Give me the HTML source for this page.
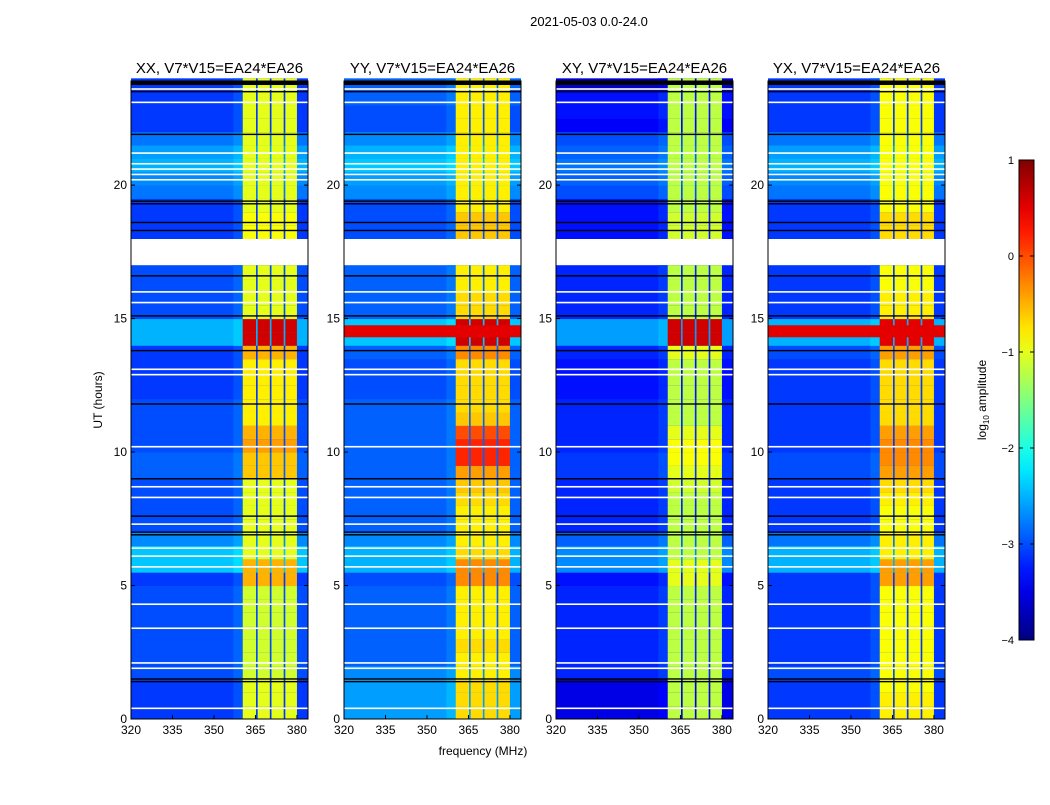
<!DOCTYPE html>
<html><head><meta charset="utf-8"><style>
body{margin:0;background:#fff;width:1050px;height:800px;overflow:hidden;font-family:"Liberation Sans",sans-serif}
svg text{font-family:"Liberation Sans",sans-serif;fill:#000}
</style></head><body>
<svg id="fig" width="1050" height="800"></svg>
<script>
const panelTitles=["XX, V7*V15=EA24*EA26","YY, V7*V15=EA24*EA26","XY, V7*V15=EA24*EA26","YX, V7*V15=EA24*EA26"];
const xTicks=[320,335,350,365,380];
const yTicks=[0,5,10,15,20];
const cbTicks=[1,0,-1,-2,-3,-4];
// half-hour bins, log10 amplitude; null = no data
const bgXX=[-3.1,-3.1,-3.1,-3.0,-3.0,-3.0,-3.0,-3.0,-3.0,-3.0,-3.1,-2.4,-2.4,-2.7,-3.0,-3.0,-3.0,-3.0,-2.9,-2.9,-3.0,-3.0,-3.0,-3.0,-3.1,-3.1,-3.1,-3.1,-2.5,-2.5,-3.0,-3.0,-3.0,-3.0,null,null,-3.1,-3.1,-3.1,-2.8,-2.7,-2.5,-2.6,-2.8,-3.1,-3.1,-3.1,-3.1];
const bandXX=[-1.0,-1.0,-1.0,-1.1,-1.1,-1.1,-1.1,-1.1,-1.1,-1.1,-0.5,-0.5,-1.0,-1.0,-1.0,-1.0,-1.0,-1.0,-0.6,-0.6,-0.4,-0.5,-0.8,-0.8,-0.8,-0.8,-0.8,-0.5,0.6,0.6,-1.0,-1.0,-1.0,-1.0,null,null,-0.9,-0.9,-1.0,-1.0,-1.0,-1.0,-1.0,-1.0,-1.0,-1.0,-1.0,-1.0];
const bgYY=[-2.6,-2.6,-2.6,-2.7,-2.9,-2.9,-2.9,-2.9,-2.9,-2.9,-3.0,-2.5,-2.5,-2.7,-2.9,-2.9,-2.9,-2.9,-2.9,-2.9,-2.9,-2.9,-2.9,-2.9,-3.0,-3.0,-3.0,-2.9,-2.4,-2.4,-2.9,-2.9,-2.9,-2.9,null,null,-3.0,-3.0,-3.0,-2.7,-2.6,-2.4,-2.5,-2.7,-3.0,-3.0,-2.9,-2.9];
const bandYY=[-0.7,-0.7,-0.7,-0.8,-0.8,-0.7,-0.8,-0.8,-0.8,-0.8,-0.3,-0.3,-0.7,-0.8,-0.8,-0.8,-0.7,-0.6,-0.4,0.2,0.2,0.0,-0.6,-0.7,-0.7,-0.7,-0.7,-0.3,0.6,0.6,-0.7,-0.7,-0.8,-0.8,null,null,-0.6,-0.6,-0.8,-0.8,-0.8,-0.8,-0.8,-0.8,-0.8,-0.8,-0.8,-0.8];
const bgXY=[-3.5,-3.5,-3.5,-3.2,-3.2,-3.2,-3.2,-3.2,-3.2,-3.2,-3.3,-2.7,-2.7,-2.9,-3.2,-3.2,-3.2,-3.2,-3.1,-3.1,-3.2,-3.2,-3.2,-3.2,-3.3,-3.3,-3.3,-3.2,-2.6,-2.6,-3.2,-3.2,-3.2,-3.2,null,null,-3.3,-3.3,-3.3,-3.0,-2.9,-2.8,-2.9,-3.0,-3.4,-3.3,-3.3,-3.6];
const bandXY=[-1.2,-1.2,-1.2,-1.2,-1.2,-1.2,-1.2,-1.2,-1.2,-1.2,-1.0,-1.0,-1.2,-1.2,-1.2,-1.2,-1.2,-1.1,-1.0,-0.9,-0.9,-1.0,-1.2,-1.2,-1.2,-1.2,-1.2,-1.0,0.6,0.6,-1.2,-1.2,-1.2,-1.2,null,null,-1.1,-1.1,-1.2,-1.2,-1.2,-1.2,-1.2,-1.2,-1.2,-1.2,-1.2,-1.2];
const bgYX=[-3.1,-3.1,-3.1,-3.0,-3.1,-3.1,-3.1,-3.1,-3.1,-3.1,-3.1,-2.5,-2.5,-2.8,-3.1,-3.1,-3.1,-3.1,-3.0,-3.0,-3.1,-3.1,-3.1,-3.1,-3.1,-3.1,-3.1,-3.0,-2.5,-2.5,-3.1,-3.1,-3.1,-3.1,null,null,-3.1,-3.1,-3.1,-2.8,-2.7,-2.5,-2.6,-2.8,-3.1,-3.1,-3.1,-3.1];
const bandYX=[-0.8,-0.8,-0.9,-0.9,-0.9,-0.9,-0.9,-0.9,-0.9,-0.9,-0.4,-0.4,-0.8,-0.8,-0.9,-0.9,-0.8,-0.7,-0.4,-0.3,-0.3,-0.4,-0.7,-0.7,-0.7,-0.7,-0.7,-0.4,0.5,0.5,-0.8,-0.8,-0.9,-0.9,null,null,-0.7,-0.7,-0.9,-0.9,-0.9,-0.9,-0.9,-0.9,-0.9,-0.9,-0.9,-0.9];
const stripeLevel=[null,0.5,null,0.5];
const blackLines=[1.4,1.5,6.9,7.0,7.6,9.0,11.8,13.8,15.1,16.6,18.3,18.6,19.3,19.4,21.9,23.5];
const whiteLines=[0.4,1.9,2.1,3.4,4.3,5.7,6.1,6.4,7.3,8.3,8.7,10.2,12.9,13.1,15.6,16.0,20.2,20.4,20.6,20.8,21.2,23.1,23.6];
const bands=[[360.4,365.2],[365.8,370.2],[370.8,375.2],[375.8,380.0]];

const bgs=[bgXX,bgYY,bgXY,bgYX], bandVals=[bandXX,bandYY,bandXY,bandYX];
const panelX=[131,344,556,768], PW=177, PT=81, PB=719;
const F0=320,F1=384,T0=0,T1=23.9;
function jet(v){let t=(v+4)/5;t=Math.max(0,Math.min(1,t));
 const f=x=>Math.round(255*Math.max(0,Math.min(1,x)));
 return `rgb(${f(1.5-Math.abs(4*t-3))},${f(1.5-Math.abs(4*t-2))},${f(1.5-Math.abs(4*t-1))})`;}
const NS='http://www.w3.org/2000/svg', svg=document.getElementById('fig');
function el(tag,attrs,parent){const e=document.createElementNS(NS,tag);for(const k in attrs)e.setAttribute(k,attrs[k]);(parent||svg).appendChild(e);return e;}
function txt(s,attrs,parent){const e=el('text',attrs,parent);e.textContent=s;return e;}

const title=txt("2021-05-03 0.0-24.0",{x:589,y:26,'font-size':13,'text-anchor':'middle'});



for(let p=0;p<4;p++){
 const x0=panelX[p];
 const xs=f=>x0+(f-F0)/(F1-F0)*PW;
 const ys=t=>PB-(t-T0)/(T1-T0)*(PB-PT);
 const g=el('g',{});
 
 
 const bg=bgs[p], bv=bandVals[p];
 for(let i=0;i<bg.length;i++){
  const ya=ys((i+1)*0.5), yb=ys(i*0.5);
  if(bg[i]===null) continue;
  const r=el('rect',{x:xs(F0),y:ya,width:xs(F1)-xs(F0),height:yb-ya+0.5,fill:jet(bg[i])},g);
  
  
  const r2=el('rect',{x:xs(357),y:ya,width:xs(360.4)-xs(357),height:yb-ya+0.5,fill:jet(bg[i]+0.12)},g);
  
  
  for(const b of bands){
   const c=el('rect',{x:xs(b[0]),y:ya,width:xs(b[1])-xs(b[0]),height:yb-ya+0.5,fill:jet(bv[i])},g);
   
   
  }
 }
 if(stripeLevel[p]!==null){
  const s=el('rect',{x:xs(F0),y:ys(14.75),width:PW,height:ys(14.3)-ys(14.75),fill:jet(stripeLevel[p])},g);
  
  
 }
 for(const h of whiteLines){const l=el('rect',{x:x0,y:ys(h)-0.8,width:PW,height:1.6,fill:'#fff'},g);
  
  }
 for(const h of blackLines){const l=el('rect',{x:x0,y:ys(h)-0.7,width:PW,height:1.4,fill:'#000'},g);
  
  }
 const top=el('rect',{x:x0,y:PT,width:PW,height:ys(23.75)-PT,fill:'#000'},g);
 
 
 const fr=el('rect',{x:x0,y:PT,width:PW,height:PB-PT,fill:'none',stroke:'#000','stroke-width':1},g);
 
 
 const pt=txt(panelTitles[p],{x:x0+PW/2,y:73,'font-size':15,'text-anchor':'middle'},g);
 
 
 for(const f of xTicks){const X=xs(f);
  el('line',{x1:X,x2:X,y1:PB,y2:PB-4,stroke:'#000'},g);el('line',{x1:X,x2:X,y1:PT,y2:PT+4,stroke:'#000'},g);
  const t=txt(String(f),{x:X,y:PB+15,'font-size':12,'text-anchor':'middle'},g);
  
  }
 for(const h of yTicks){const Y=ys(h);
  el('line',{x1:x0,x2:x0+4,y1:Y,y2:Y,stroke:'#000'},g);el('line',{x1:x0+PW,x2:x0+PW-4,y1:Y,y2:Y,stroke:'#000'},g);
  const t=txt(String(h),{x:x0-4,y:Y+4,'font-size':12,'text-anchor':'end'},g);
  
  }
}
const yl=txt("UT (hours)",{x:0,y:0,'font-size':12,'text-anchor':'middle',transform:'translate(102,400) rotate(-90)'});


const xl=txt("frequency (MHz)",{x:483,y:755,'font-size':12,'text-anchor':'middle'});



// colorbar
const defs=el('defs',{});
const grad=el('linearGradient',{id:'jetg',x1:0,y1:1,x2:0,y2:0},defs);
for(let i=0;i<=20;i++){el('stop',{offset:i/20,'stop-color':jet(-4+5*i/20)},grad);}
const cb=el('rect',{x:1019,y:160,width:15,height:480,fill:'url(#jetg)',stroke:'#000','stroke-width':1});


for(const v of cbTicks){const Y=160+(1-v)/5*480;
 el('line',{x1:1019,x2:1023,y1:Y,y2:Y,stroke:'#000'});el('line',{x1:1034,x2:1030,y1:Y,y2:Y,stroke:'#000'});
 const t=txt(v<0?'\u2212'+(-v):String(v),{x:1014,y:Y+4,'font-size':11,'text-anchor':'end'});
 
 }
const cl=el('text',{x:0,y:0,'font-size':12,'text-anchor':'middle',transform:'translate(986,400) rotate(-90)'});
cl.innerHTML='log<tspan font-size="8" dy="3">10</tspan><tspan dy="-3"> amplitude</tspan>';


</script>
</body></html>
